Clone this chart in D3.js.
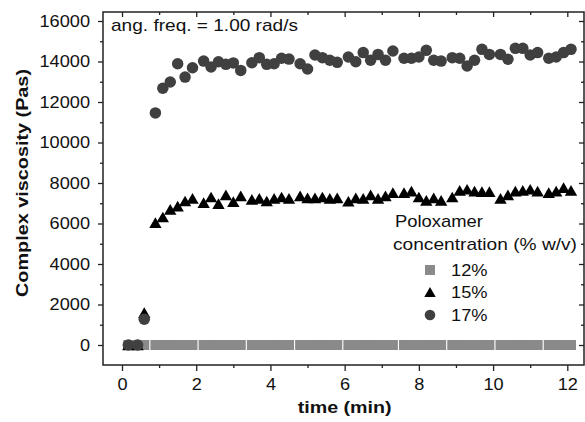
<!DOCTYPE html>
<html><head><meta charset="utf-8">
<script src="https://cdn.jsdelivr.net/npm/d3@7"></script>
<style>body{margin:0;background:#fff}svg{display:block;font-family:"Liberation Sans",Arial,sans-serif}</style>
</head><body><svg id="c" width="585" height="422"></svg>
<script>
const time = [0.17,0.42,0.6,0.9,1.1,1.3,1.5,1.7,1.9,2.2,2.4,2.6,2.8,3.0,3.2,3.5,3.7,3.9,4.1,4.3,4.5,4.8,5.0,5.2,5.4,5.6,5.8,6.1,6.3,6.5,6.7,6.9,7.1,7.3,7.6,7.8,8.0,8.2,8.4,8.6,8.9,9.1,9.3,9.5,9.7,9.9,10.2,10.4,10.6,10.8,11.0,11.2,11.5,11.7,11.9,12.1];
const visc12 = [0,0,0,0,0,0,0,0,0,0,0,0,0,0,0,0,0,0,0,0,0,0,0,0,0,0,0,0,0,0,0,0,0,0,0,0,0,0,0,0,0,0,0,0,0,0,0,0,0,0,0,0,0,0,0,0];
const visc15 = [0,0,1600,6040,6320,6700,6860,7110,7240,7030,7310,6980,7410,7080,7360,7190,7240,7110,7240,7310,7240,7360,7270,7270,7310,7240,7270,7100,7270,7240,7410,7240,7360,7520,7520,7600,7310,7140,7270,7140,7310,7640,7690,7600,7570,7570,7240,7410,7600,7640,7690,7600,7520,7600,7770,7640];
const visc17 = [0,0,1270,11460,12680,12990,13890,13230,13690,14020,13730,13990,13860,13930,13560,13940,14190,13860,13890,14160,14120,13890,13630,14320,14190,14060,13960,14220,13990,14440,14060,14350,14060,14520,14160,14160,14220,14550,14060,14020,14190,14160,13780,14060,14600,14350,14350,14110,14650,14650,14320,14440,14160,14220,14440,14600];
const xTicks = [0,2,4,6,8,10,12];
const yTicks = [0,2000,4000,6000,8000,10000,12000,14000,16000];
const seriesNames = ["12%","15%","17%"];

const svg = d3.select("#c");
const L=103, R=584, T=12, B=365;
const FS = 17, DIGW = 10.1;
const x = d3.scaleLinear().domain([0,12]).range([122,567.3]);
const y = d3.scaleLinear().domain([0,16000]).range([345,21]);

const triType = {draw(ctx,size){const s=Math.sqrt(size*4/Math.sqrt(3));const h=s*Math.sqrt(3)/2;ctx.moveTo(0,-h/2);ctx.lineTo(s/2,h/2);ctx.lineTo(-s/2,h/2);ctx.closePath();}};
const sq = d3.symbol().type(d3.symbolSquare).size(100)();
const tri = d3.symbol().type(triType).size(66)();
const circ = d3.symbol().type(d3.symbolCircle).size(104)();

// data
const g = svg.append("g");
g.selectAll("path.s12").data(time.map((t,i)=>[t,visc12[i]])).join("path")
 .attr("d",sq).attr("fill","#8a8a8a").attr("transform",d=>`translate(${x(d[0])},${y(d[1])})`);
g.selectAll("path.s15").data(time.map((t,i)=>[t,visc15[i]])).join("path")
 .attr("d",tri).attr("fill","#000").attr("transform",d=>`translate(${x(d[0])},${y(d[1])})`);
g.selectAll("path.s17").data(time.map((t,i)=>[t,visc17[i]])).join("path")
 .attr("d",circ).attr("fill","#404040").attr("transform",d=>`translate(${x(d[0])},${y(d[1])})`);

// frame
svg.append("rect").attr("x",L).attr("y",T).attr("width",R-L).attr("height",B-T)
 .attr("fill","none").attr("stroke","#222").attr("stroke-width",1.5);

const xMinor = [1,3,5,7,9,11];
const yMinor = [1000,3000,5000,7000,9000,11000,13000,15000];
function styleAxis(a){a.select(".domain").remove();a.selectAll("line").attr("stroke","#222").attr("stroke-width",1.3);
  a.selectAll("text").attr("font-size",FS+"px").attr("fill","#111")
   .each(function(){const s=this.textContent;if(s) d3.select(this).attr("textLength",s.length*DIGW).attr("lengthAdjust","spacingAndGlyphs");});}
svg.append("g").attr("transform",`translate(0,${B})`).call(d3.axisBottom(x).tickValues(xTicks).tickSize(6).tickPadding(7).tickFormat(d3.format("d"))).call(styleAxis);
svg.append("g").attr("transform",`translate(0,${B})`).call(d3.axisBottom(x).tickValues(xMinor).tickSize(3).tickFormat("")).call(styleAxis);
svg.append("g").attr("transform",`translate(0,${T})`).call(d3.axisBottom(x).tickValues(xTicks).tickSize(5).tickFormat("")).call(styleAxis);
svg.append("g").attr("transform",`translate(0,${T})`).call(d3.axisBottom(x).tickValues(xMinor).tickSize(3).tickFormat("")).call(styleAxis);
svg.append("g").attr("transform",`translate(${L},0)`).call(d3.axisLeft(y).tickValues(yTicks).tickSize(5).tickPadding(8).tickFormat(d3.format("d"))).call(styleAxis);
svg.append("g").attr("transform",`translate(${L},0)`).call(d3.axisLeft(y).tickValues(yMinor).tickSize(3).tickFormat("")).call(styleAxis);
svg.append("g").attr("transform",`translate(${R},0)`).call(d3.axisLeft(y).tickValues(yTicks).tickSize(5).tickFormat("")).call(styleAxis);
svg.append("g").attr("transform",`translate(${R},0)`).call(d3.axisLeft(y).tickValues(yMinor).tickSize(3).tickFormat("")).call(styleAxis);

function label(px,py,str,len,opts={}){
  const t = svg.append("text").attr("transform",`translate(${px},${py})${opts.rot?" rotate(-90)":""}`)
    .attr("font-size",FS+"px").attr("fill","#111").attr("textLength",len).attr("lengthAdjust","spacingAndGlyphs").text(str);
  if(opts.bold) t.attr("font-weight","bold");
  if(opts.anchor) t.attr("text-anchor",opts.anchor);
  return t;
}
// titles
label((x(0)+x(12))/2,413,"time (min)",94,{bold:true,anchor:"middle"});
label(28,183,"Complex viscosity (Pas)",228,{bold:true,anchor:"middle",rot:true});
label(111,31,"ang. freq. = 1.00 rad/s",187);

// legend
label(395,227,"Poloxamer",88);
label(393,250,"concentration (% w/v)",184);
const legY=[270,292,315];
const legSym=[[sq,"#8a8a8a"],[tri,"#000"],[circ,"#404040"]];
seriesNames.forEach((n,i)=>{
  svg.append("path").attr("d",legSym[i][0]).attr("fill",legSym[i][1]).attr("transform",`translate(430,${legY[i]}) scale(${i==0?1:0.92})`);
  label(451,legY[i]+6,n,36.5);
});
</script></body></html>
